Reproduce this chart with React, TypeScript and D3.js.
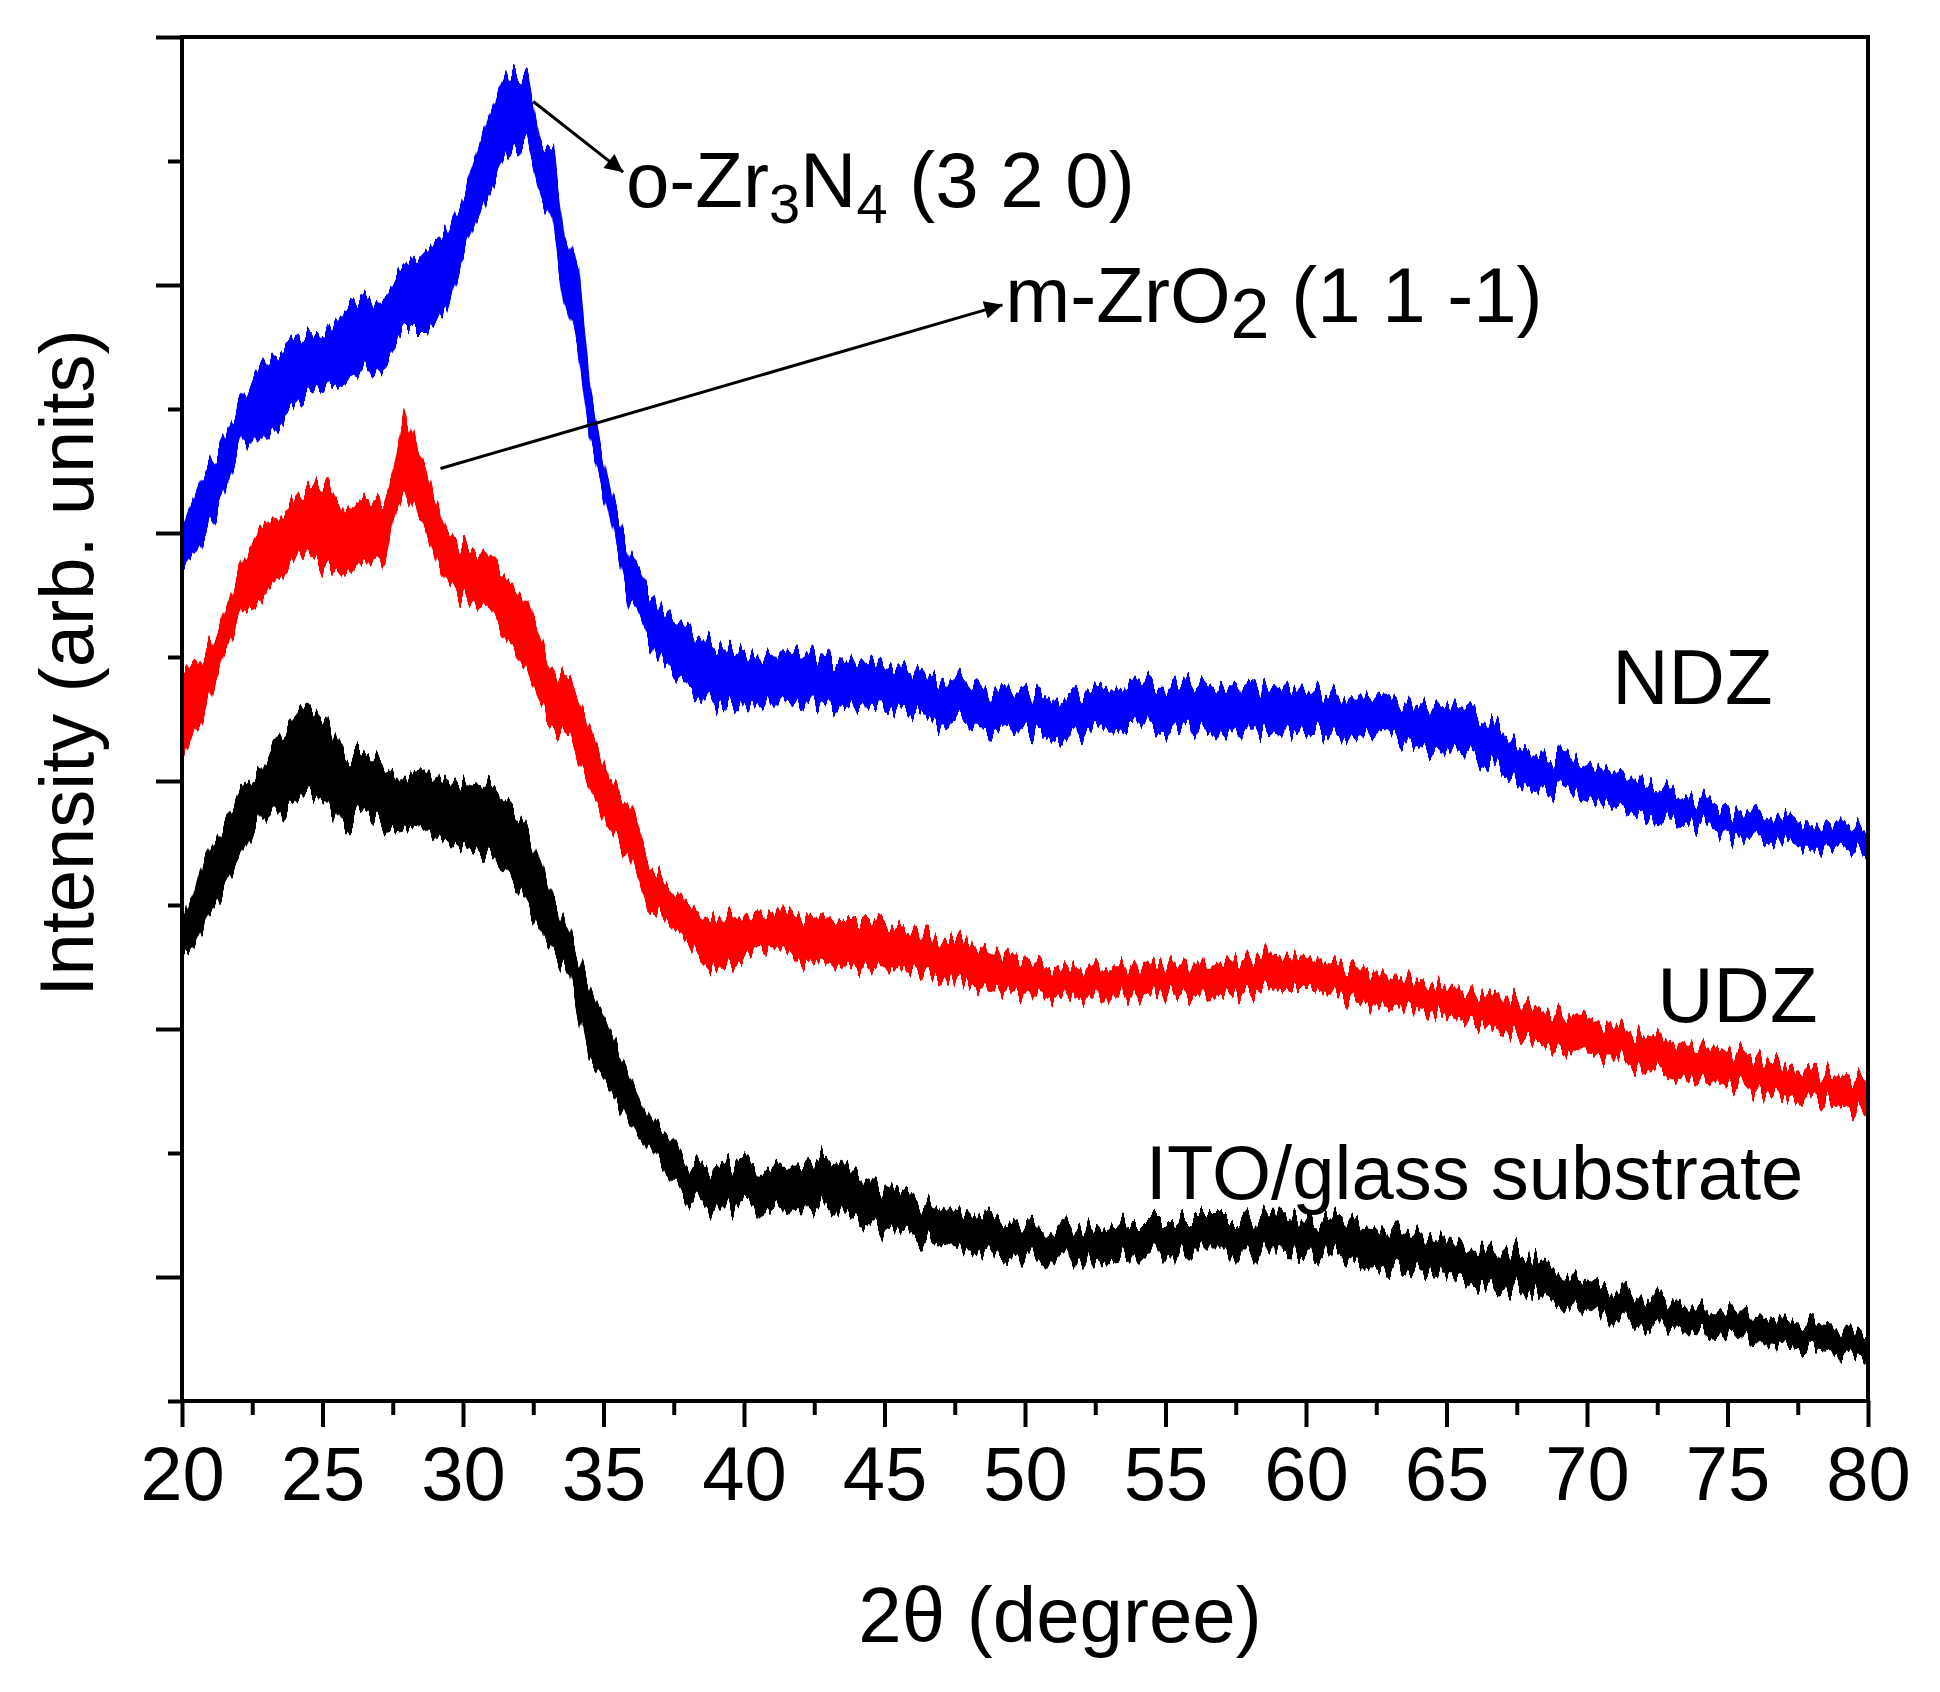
import { useEffect, useRef } from 'react';
import * as d3 from 'd3';

// XRD traces: [2theta (deg), upper edge, lower edge] of each noisy trace, arb. units
const ndzTrace: [number, number, number][] = [
  [20.0, 702, 669], [20.7, 744, 694], [21.4, 767, 727], [22.1, 803, 773], [22.8, 832, 773],
  [23.6, 852, 793], [24.3, 859, 810], [25.1, 856, 816], [25.8, 882, 823], [26.5, 889, 832],
  [27.2, 889, 832], [27.9, 908, 862], [28.7, 928, 862], [29.4, 944, 882], [30.1, 977, 935],
  [30.9, 1036, 977], [31.6, 1074, 1011], [32.3, 1065, 1011], [32.7, 1017, 977], [33.2, 1011, 954],
  [33.6, 941, 892], [34.1, 908, 846], [34.5, 813, 777], [34.9, 770, 744], [35.3, 727, 707],
  [35.9, 685, 648], [36.6, 652, 615], [37.4, 631, 590], [38.1, 622, 573], [38.8, 610, 565],
  [39.6, 606, 561], [40.6, 598, 561], [41.9, 606, 565], [43.2, 598, 561], [44.5, 594, 559],
  [45.8, 590, 557], [47.1, 583, 548], [48.5, 575, 543], [49.8, 572, 540], [51.1, 568, 536],
  [52.4, 572, 540], [53.7, 576, 543], [55.1, 576, 540], [56.4, 580, 544], [57.7, 576, 540],
  [59.0, 572, 536], [60.4, 572, 540], [61.8, 568, 536], [63.1, 564, 536], [64.4, 560, 525],
  [65.8, 556, 521], [67.1, 536, 505], [68.4, 521, 494], [69.7, 517, 490], [71.0, 505, 478],
  [72.3, 498, 470], [73.7, 486, 466], [75.0, 478, 458], [76.3, 474, 454], [77.6, 466, 447],
  [79.0, 466, 447], [80.0, 462, 443],
];

const udzTrace: [number, number, number][] = [
  [20.0, 581, 512], [20.7, 598, 551], [21.4, 631, 602], [22.1, 674, 638], [22.8, 704, 645],
  [23.6, 714, 668], [24.3, 734, 688], [25.1, 740, 672], [25.8, 717, 668], [26.5, 727, 677],
  [27.2, 724, 677], [27.5, 744, 712], [27.9, 793, 734], [28.7, 750, 704], [29.4, 698, 658],
  [30.1, 688, 645], [30.9, 681, 638], [31.6, 661, 612], [32.3, 645, 592], [33.0, 598, 551],
  [33.8, 582, 536], [34.5, 547, 500], [35.2, 500, 461], [35.9, 481, 441], [36.6, 434, 398],
  [37.4, 414, 387], [38.1, 398, 367], [38.8, 387, 348], [39.6, 394, 352], [40.3, 390, 363],
  [41.0, 394, 367], [41.9, 392, 356], [43.2, 388, 352], [44.5, 388, 349], [45.8, 380, 349],
  [47.1, 373, 341], [48.5, 365, 333], [49.8, 356, 329], [51.1, 349, 326], [52.4, 349, 326],
  [53.7, 349, 326], [55.1, 352, 329], [56.4, 352, 326], [57.7, 356, 329], [59.0, 360, 333],
  [60.4, 356, 333], [61.8, 349, 322], [63.1, 341, 318], [64.4, 337, 314], [65.8, 329, 306],
  [67.1, 326, 298], [68.4, 314, 286], [69.7, 310, 282], [71.0, 302, 278], [72.3, 294, 267],
  [73.7, 286, 259], [75.0, 282, 255], [76.3, 275, 248], [77.6, 267, 244], [79.0, 263, 240],
  [80.0, 259, 231],
];

const itoTrace: [number, number, number][] = [
  [20.0, 383, 356], [20.4, 406, 367], [20.8, 438, 387], [21.4, 461, 411], [22.1, 492, 441],
  [22.8, 508, 473], [23.6, 539, 473], [24.3, 559, 488], [25.1, 555, 492], [25.8, 519, 461],
  [26.5, 523, 477], [27.2, 511, 461], [27.9, 504, 465], [28.7, 508, 461], [29.4, 492, 445],
  [30.1, 496, 445], [30.9, 492, 437], [31.6, 481, 426], [32.3, 461, 402], [33.0, 418, 371],
  [33.8, 375, 344], [34.5, 332, 277], [35.2, 301, 254], [35.9, 262, 227], [36.6, 227, 203],
  [37.4, 211, 180], [38.1, 191, 164], [38.8, 188, 156], [39.6, 191, 156], [40.6, 189, 157],
  [41.9, 189, 153], [43.2, 193, 153], [44.5, 177, 142], [45.8, 165, 134], [47.1, 153, 126],
  [48.5, 149, 119], [49.8, 142, 115], [51.1, 138, 115], [52.4, 142, 115], [53.7, 146, 119],
  [55.1, 146, 119], [56.4, 146, 119], [57.7, 146, 119], [59.0, 149, 119], [60.4, 144, 117],
  [61.8, 142, 110], [63.1, 138, 106], [64.4, 130, 102], [65.8, 122, 95], [67.1, 122, 91],
  [68.4, 110, 83], [69.7, 98, 75], [71.0, 91, 68], [72.3, 83, 60], [73.7, 75, 56],
  [75.0, 71, 52], [76.3, 68, 48], [77.6, 64, 44], [79.0, 60, 40], [80.0, 56, 36],
];

const xMajorTicks = [20, 25, 30, 35, 40, 45, 50, 55, 60, 65, 70, 75, 80];
const xMinorTicks = [22.5, 27.5, 32.5, 37.5, 42.5, 47.5, 52.5, 57.5, 62.5, 67.5, 72.5, 77.5];
const yMajorTicks = [100, 300, 500, 700, 900, 1100];
const yMinorTicks = [0, 200, 400, 600, 800, 1000];

// peak annotations: arrow from [deg, intensity] to [deg, intensity]
const zr3n4Arrow: [number, number][] = [[32.5, 1048], [35.7, 991]];
const zro2Arrow: [number, number][] = [[29.2, 752], [49.2, 884]];

const FONT = '"Liberation Sans", Arial, Helvetica, sans-serif';

export default function App() {
  const xAxisRef = useRef<SVGGElement>(null);
  const yAxisRef = useRef<SVGGElement>(null);

  const width = 1940;
  const height = 1692;
  const margin = { top: 37, right: 72, bottom: 291, left: 182 };
  const x = d3.scaleLinear().domain([20, 80]).range([margin.left, width - margin.right]);
  const y = d3.scaleLinear().domain([0, 1100]).range([height - margin.bottom, margin.top]);

  useEffect(() => {
    if (!xAxisRef.current || !yAxisRef.current) return;
    const gx = d3.select(xAxisRef.current);
    gx.selectAll('*').remove();
    gx.append('g')
      .call(d3.axisBottom(x).tickValues(xMajorTicks).tickSize(26).tickSizeOuter(0).tickPadding(19).tickFormat(d3.format('d')));
    gx.append('g')
      .call(d3.axisBottom(x).tickValues(xMinorTicks).tickSize(14).tickSizeOuter(0).tickFormat(() => ''));
    gx.selectAll('.domain').remove();
    gx.selectAll('line').attr('stroke', '#000').attr('stroke-width', 4);
    gx.selectAll('text').attr('fill', '#000').attr('font-size', 76).attr('font-family', FONT);

    const gy = d3.select(yAxisRef.current);
    gy.selectAll('*').remove();
    gy.append('g')
      .call(d3.axisLeft(y).tickValues(yMajorTicks).tickSize(26).tickSizeOuter(0).tickFormat(() => ''));
    gy.append('g')
      .call(d3.axisLeft(y).tickValues(yMinorTicks).tickSize(14).tickSizeOuter(0).tickFormat(() => ''));
    gy.selectAll('.domain').remove();
    gy.selectAll('line').attr('stroke', '#000').attr('stroke-width', 4);
  }, []);

  const band = d3.area<[number, number, number]>()
    .x(d => x(d[0]))
    .y0(d => y(d[2]))
    .y1(d => y(d[1]))
    .curve(d3.curveLinear);

  const arrowLine = d3.line<[number, number]>().x(d => x(d[0])).y(d => y(d[1]));

  return (
    <svg
      width={width}
      height={height}
      style={{ position: 'absolute', left: 0, top: 0, background: '#fff' }}
      fontFamily={FONT}
    >
      <defs>
        <filter id="jitter" x="-2%" y="-10%" width="104%" height="120%">
          <feTurbulence type="fractalNoise" baseFrequency="0.16 0.002" numOctaves={2} seed={7} result="noise" />
          <feColorMatrix
            in="noise"
            type="matrix"
            values="0 0 0 0 0.5  0 1 0 0 0  0 0 1 0 0  0 0 0 0 1"
            result="shift"
          />
          <feDisplacementMap in="SourceGraphic" in2="shift" scale={42} xChannelSelector="R" yChannelSelector="G" />
        </filter>
        <marker
          id="head"
          viewBox="0 0 10 10"
          refX={10}
          refY={5}
          markerUnits="userSpaceOnUse"
          markerWidth={28}
          markerHeight={18}
          orient="auto"
        >
          <path d="M0,0 L10,5 L0,10 z" fill="#000" />
        </marker>
      </defs>

      <g filter="url(#jitter)">
        <path d={band(itoTrace) ?? ''} fill="#000" stroke="#000" strokeWidth={2} />
        <path d={band(udzTrace) ?? ''} fill="#ff0000" stroke="#ff0000" strokeWidth={2} />
        <path d={band(ndzTrace) ?? ''} fill="#0000ff" stroke="#0000ff" strokeWidth={2} />
      </g>

      <path d={arrowLine(zr3n4Arrow) ?? ''} fill="none" stroke="#000" strokeWidth={3} markerEnd="url(#head)" />
      <path d={arrowLine(zro2Arrow) ?? ''} fill="none" stroke="#000" strokeWidth={3} markerEnd="url(#head)" />

      <rect
        x={margin.left}
        y={margin.top}
        width={width - margin.left - margin.right}
        height={height - margin.top - margin.bottom}
        fill="none"
        stroke="#000"
        strokeWidth={4}
      />
      <g ref={xAxisRef} transform={`translate(0,${height - margin.bottom})`} />
      <g ref={yAxisRef} transform={`translate(${margin.left},0)`} />

      <text x={x(35.8)} y={y(963)} fontSize={78} fill="#000">
        o-Zr<tspan fontSize={56} dy={16}>3</tspan>
        <tspan dy={-16}>N</tspan>
        <tspan fontSize={56} dy={16}>4</tspan>
        <tspan dy={-16}>{' (3 2 0)'}</tspan>
      </text>
      <text x={x(49.3)} y={y(870)} fontSize={78} fill="#000">
        m-ZrO<tspan fontSize={70} dy={16}>2</tspan>
        <tspan dy={-16}>{' (1 1 -1)'}</tspan>
      </text>

      <text x={x(70.9)} y={y(562)} fontSize={78} fill="#000">NDZ</text>
      <text x={x(72.5)} y={y(306)} fontSize={78} fill="#000">UDZ</text>
      <text x={x(54.3)} y={y(163)} fontSize={76} fill="#000">ITO/glass substrate</text>

      <text x={1060} y={1642} fontSize={78} textAnchor="middle" fill="#000">2θ (degree)</text>
      <text transform="translate(93,663) rotate(-90)" fontSize={76} textAnchor="middle" fill="#000">
        Intensity (arb. units)
      </text>
    </svg>
  );
}
